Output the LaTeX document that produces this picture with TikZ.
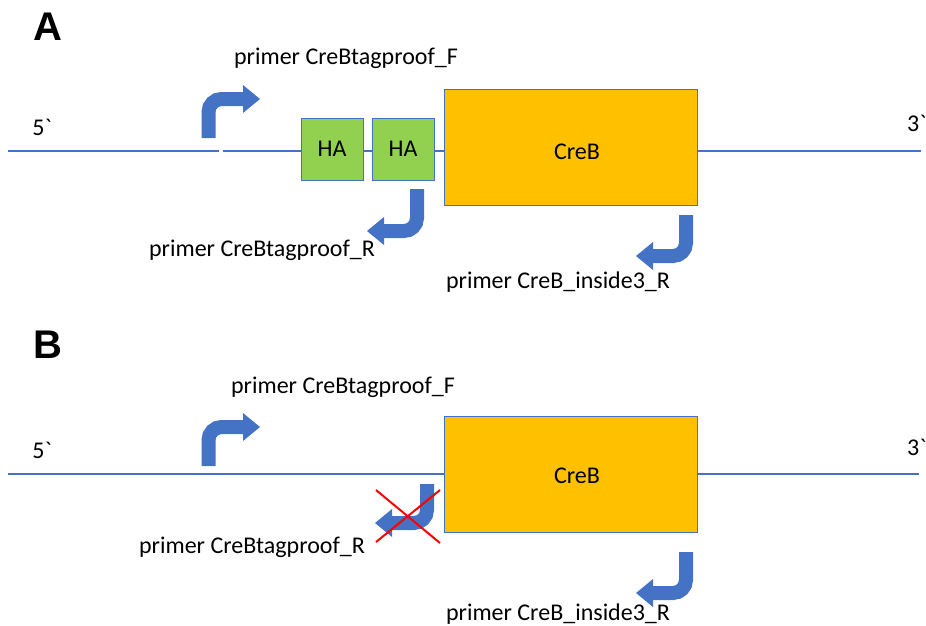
\documentclass[tikz,border=0pt]{standalone}
\usepackage{fontspec}
\setmainfont{Carlito}
\newfontfamily\panelfont{Liberation Sans}
\usepackage{xcolor}
\usetikzlibrary{arrows.meta}
\definecolor{StrandBlue}{HTML}{4472C4}
\definecolor{ArmGreen}{HTML}{92D050}
\definecolor{GeneOrange}{HTML}{FFC000}
\definecolor{CrossRed}{HTML}{FF0000}

\begin{document}
\begin{tikzpicture}[
	x=1pt, y=-1pt, % pixel grid of the figure
	% Style for the DNA strand
	strand/.style={
		draw=StrandBlue,
		line width=2pt
	},
	% Style for the homology arm boxes
	arm box/.style={
		rectangle,
		draw=StrandBlue,      % Border color
		fill=ArmGreen,
		line width=1pt,
		minimum width=62pt,
		minimum height=62pt,
		inner sep=0pt,
		font=\fontsize{24}{26}\selectfont
	},
	% Style for the gene box
	gene box/.style={
		rectangle,
		draw=StrandBlue,
		fill=GeneOrange,
		line width=1pt,
		minimum width=253pt,
		minimum height=116pt,
		inner sep=0pt
	},
	% Style for the bent primer arrows
	primer arrow/.style={
		draw=StrandBlue,
		line width=14pt,
		rounded corners=13pt,
		-{Triangle[length=17pt, width=28pt, line width=0pt]}
	},
	% Style for the crossing-out lines
	cross out/.style={
		draw=CrossRed,
		line width=2pt
	},
	% Text styles
	txt/.style={
		font=\fontsize{24}{26}\selectfont,
		inner sep=0pt
	},
	panel/.style={
		font=\panelfont\bfseries\fontsize{40}{44}\selectfont,
		inner sep=0pt
	}
	]
	\useasboundingbox (0,0) rectangle (926,625);
	
	% 1. Panel A
	\node[panel] (labA) at (48,27) {A};
	\node[txt] (fwdA) at (346,58) {primer CreBtagproof\_F};
	\node[txt] (endA5) at (42,127) {5\textasciigrave};
	\node[txt, anchor=west] (endA3) at (907,123) {3\textasciigrave};
	
	% Boxes on the strand
	\node[arm box] (haA1) at (332,149) {HA};
	\node[arm box] (haA2) at (403,149) {HA};
	\node[gene box] (creA) at (570.5,147) {};
	\node[txt] (creAtxt) at (577,152) {CreB};
	
	% Strand
	\coordinate (a5) at (8,151);
	\coordinate (a3) at (921,151);
	\coordinate (agapL) at (219,151);
	\coordinate (agapR) at (223,151);
	\draw[strand] (a5) -- (agapL);
	\draw[strand] (agapR) -- (haA1.west |- a5);
	\draw[strand] (haA1.east |- a5) -- (haA2.west |- a5);
	\draw[strand] (haA2.east |- a5) -- (creA.west |- a5);
	\draw[strand] (creA.east |- a5) -- (a3);
	
	% Primers
	\draw[primer arrow] (208.5,138) -- (208.5,99) -- (260,99);
	\draw[primer arrow] (417,189) -- (417,231) -- (367,231);
	\draw[primer arrow] (686,215) -- (686,256) -- (636,256);
	\node[txt] (revA) at (262,250) {primer CreBtagproof\_R};
	\node[txt] (insA) at (558,282) {primer CreB\_inside3\_R};
	
	% 2. Panel B
	\node[panel] (labB) at (48,345) {B};
	\node[txt] (fwdB) at (343,387) {primer CreBtagproof\_F};
	\node[txt] (endB5) at (42,450) {5\textasciigrave};
	\node[txt, anchor=west] (endB3) at (907,447) {3\textasciigrave};
	
	\node[gene box] (creB) at (570.5,474.5) {};
	\node[txt] (creBtxt) at (577,476) {CreB};
	
	% Strand
	\coordinate (b5) at (8,474);
	\coordinate (b3) at (919,474);
	\draw[strand] (b5) -- (creB.west |- b5);
	\draw[strand] (creB.east |- b5) -- (b3);
	
	% Primers
	\draw[primer arrow] (208.5,466) -- (208.5,427) -- (260,427);
	\draw[primer arrow] (427,484) -- (427,523) -- (375,523);
	\draw[primer arrow] (686,552) -- (686,593) -- (636,593);
	\node[txt] (revB) at (252,547) {primer CreBtagproof\_R};
	\node[txt] (insB) at (558,614) {primer CreB\_inside3\_R};
	
	% Crossed out primer
	\draw[cross out] (376,490) -- (440,543);
	\draw[cross out] (440,490) -- (376,542);
	
\end{tikzpicture}
\end{document}
